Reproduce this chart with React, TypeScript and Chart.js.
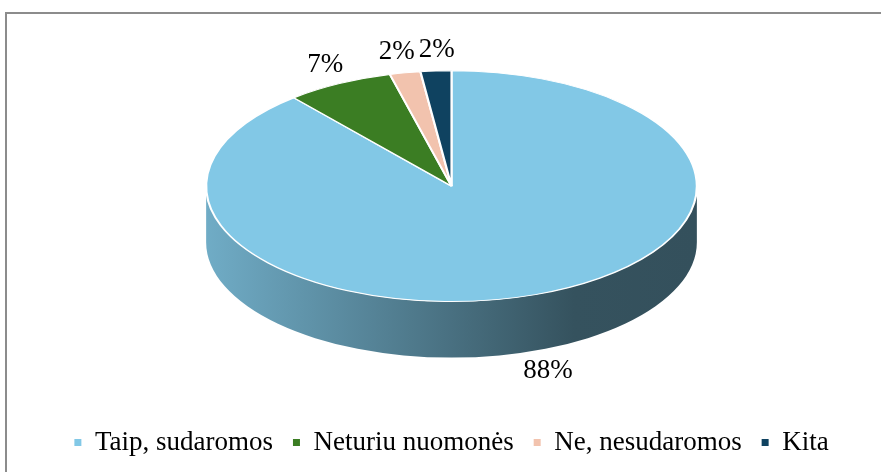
import React, { useEffect, useRef } from "react";
import { Chart, registerables } from "chart.js";

Chart.register(...registerables);

const categories = ["Taip, sudaromos", "Neturiu nuomonės", "Ne, nesudaromos", "Kita"];
const values = [88, 7, 2, 2];
const colors = ["#82C8E6", "#3B7D23", "#F2C3AE", "#0F4260"];

const FONT = '"Liberation Serif", "Times New Roman", serif';
const FONT_SIZE = 27;
const SCALE_X = 1.454; // horizontal stretch of the pie (3D tilt look)
const SCALE_Y = 0.684; // vertical squash of the pie
const DEPTH = 56; // thickness of the 3D side wall
const LABEL_GAP = 12;

function shade(hex: string, f: number) {
  const n = parseInt(hex.slice(1), 16);
  const r = Math.round(((n >> 16) & 255) * f);
  const g = Math.round(((n >> 8) & 255) * f);
  const b = Math.round((n & 255) * f);
  return `rgb(${r},${g},${b})`;
}

function geom(arc: any) {
  const p = arc.getProps(["x", "y", "outerRadius", "startAngle", "endAngle"], true);
  const ox = p.x;
  const oy = p.y - p.outerRadius;
  const cx = p.x;
  const cy = oy + p.outerRadius * SCALE_Y;
  const rx = p.outerRadius * SCALE_X;
  const ry = p.outerRadius * SCALE_Y;
  return { ...p, ox, oy, cx, cy, rx, ry };
}

const pie3d = {
  id: "pie3d",
  beforeDatasetsDraw(chart: any) {
    const ctx = chart.ctx;
    const meta = chart.getDatasetMeta(0);
    if (!meta.data.length) return;
    // side walls
    meta.data.forEach((arc: any, i: number) => {
      const g = geom(arc);
      for (let k = -1; k <= 1; k++) {
        const a1 = Math.max(g.startAngle, 2 * Math.PI * k);
        const a2 = Math.min(g.endAngle, 2 * Math.PI * k + Math.PI);
        if (a2 <= a1) continue;
        ctx.save();
        ctx.beginPath();
        ctx.ellipse(g.cx, g.cy, g.rx, g.ry, 0, a1, a2, false);
        ctx.ellipse(g.cx, g.cy + DEPTH, g.rx, g.ry, 0, a2, a1, true);
        ctx.closePath();
        const grad = ctx.createLinearGradient(g.cx - g.rx, 0, g.cx + g.rx, 0);
        grad.addColorStop(0, shade(colors[i], 0.86));
        grad.addColorStop(0.75, shade(colors[i], 0.41));
        grad.addColorStop(1, shade(colors[i], 0.4));
        ctx.fillStyle = grad;
        ctx.fill();
        ctx.restore();
      }
    });
    const g0 = geom(meta.data[0]);
    ctx.save();
    ctx.translate(g0.ox, g0.oy);
    ctx.scale(SCALE_X, SCALE_Y);
    ctx.translate(-g0.ox, -g0.oy);
  },
  afterDatasetsDraw(chart: any) {
    const ctx = chart.ctx;
    const meta = chart.getDatasetMeta(0);
    if (!meta.data.length) return;
    ctx.restore();
    ctx.save();
    ctx.font = `${FONT_SIZE}px ${FONT}`;
    ctx.fillStyle = "#000";
    ctx.textAlign = "center";
    ctx.textBaseline = "middle";
    const labels = meta.data.map((arc: any, i: number) => {
      const g = geom(arc);
      const mid = (g.startAngle + g.endAngle) / 2;
      const c = Math.cos(mid);
      const s = Math.sin(mid);
      const text = `${values[i]}%`;
      const w = ctx.measureText(text).width;
      const h = FONT_SIZE * 0.7;
      let x = g.cx + g.rx * c;
      let y = g.cy + g.ry * s;
      if (s > 0) y += DEPTH;
      x += c * (LABEL_GAP + w / 2);
      y += s * (LABEL_GAP + h / 2);
      return { text, x, y, w, h };
    });
    // simple collision avoidance
    const sorted = [...labels].sort((a, b) => a.x - b.x);
    for (let pass = 0; pass < 5; pass++) {
      for (let j = 1; j < sorted.length; j++) {
        const a = sorted[j - 1];
        const b = sorted[j];
        if (Math.abs(a.y - b.y) > (a.h + b.h) / 2) continue;
        const need = (a.w + b.w) / 2 + 4 - (b.x - a.x);
        if (need > 0) {
          a.x -= need / 2;
          b.x += need / 2;
        }
      }
    }
    labels.forEach((l: any) => ctx.fillText(l.text, l.x, l.y));
    ctx.restore();
  },
};

export default function App() {
  const ref = useRef<HTMLCanvasElement | null>(null);
  useEffect(() => {
    if (!ref.current) return;
    const chart = new Chart(ref.current, {
      type: "pie",
      data: {
        labels: categories,
        datasets: [
          {
            data: values,
            backgroundColor: colors,
            borderColor: "#ffffff",
            borderWidth: 1.5,
          },
        ],
      },
      options: {
        responsive: false,
        animation: false,
        layout: { padding: { left: 22, right: 0, top: 70, bottom: 6 } },
        plugins: {
          tooltip: { enabled: false },
          legend: {
            position: "bottom",
            labels: {
              boxWidth: 7,
              boxHeight: 7,
              padding: 20,
              color: "#000",
              font: { family: FONT, size: FONT_SIZE },
              generateLabels: (c: any) => {
                const items = (Chart as any).overrides.pie.plugins.legend.labels.generateLabels(c);
                return items.map((it: any) => ({ ...it, lineWidth: 0, strokeStyle: "rgba(0,0,0,0)" }));
              },
            },
          },
        },
      },
      plugins: [pie3d],
    });
    return () => chart.destroy();
  }, []);
  return (
    <div
      style={{
        position: "fixed",
        left: 0,
        top: 0,
        width: 881,
        height: 472,
        background: "#fff",
        overflow: "hidden",
      }}
    >
      <div
        style={{
          position: "absolute",
          left: 5,
          top: 12,
          width: 1000,
          height: 1000,
          border: "2px solid #8c8c8c",
          boxSizing: "border-box",
        }}
      />
      <canvas
        ref={ref}
        width={881}
        height={472}
        style={{ position: "absolute", left: 0, top: 0, width: 881, height: 472 }}
      />
    </div>
  );
}
